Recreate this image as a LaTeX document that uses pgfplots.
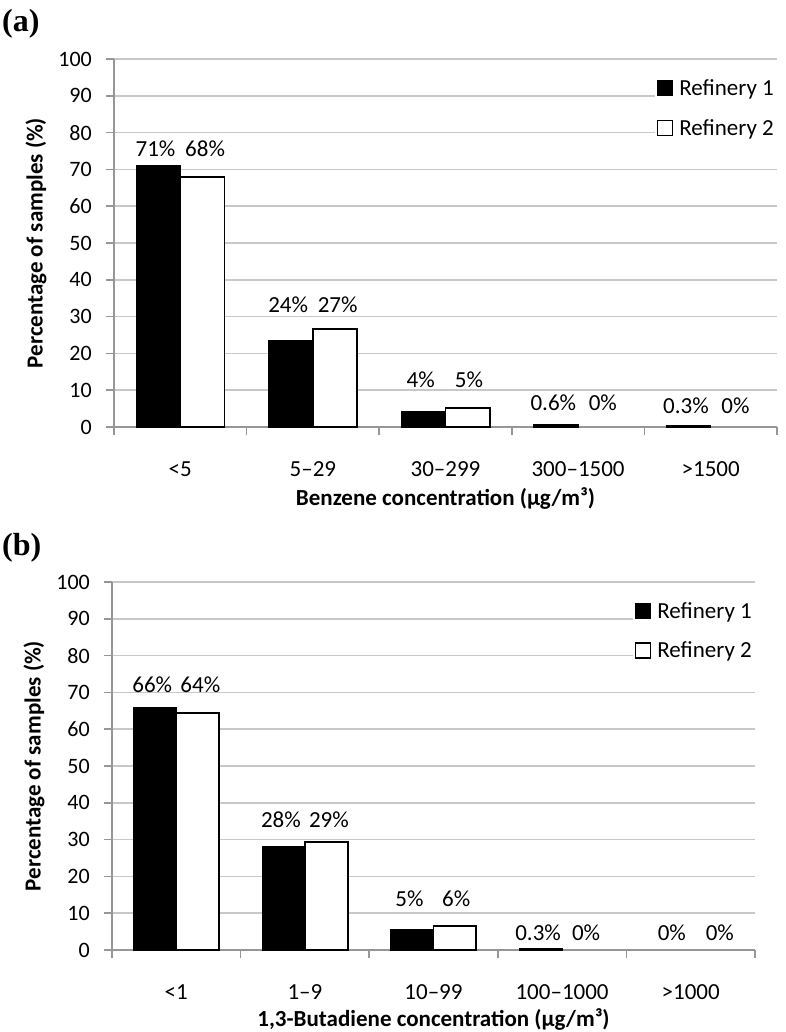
\documentclass[border=0pt]{standalone}
\usepackage{fontspec}
\setmainfont{Carlito}
\newfontfamily\serifb{Liberation Serif}
\usepackage{pgfplots}
\pgfplotsset{compat=1.18}
\definecolor{gridc}{RGB}{200,200,200}
\definecolor{axc}{RGB}{150,150,150}
\newcommand{\fs}{\fontsize{22bp}{26bp}\selectfont}
\newcommand{\fl}{\fontsize{23bp}{27bp}\selectfont}
\pgfplotsset{
  refstyle/.style={
    scale only axis, height=368bp,
    xmin=-0.5, xmax=4.5, ymin=0, ymax=100,
    axis x line*=bottom, axis y line*=left,
    ytick={0,10,...,100},
    xtick={-0.5,0.5,...,4.5}, xticklabels={,,,,,},
    extra x ticks={0,1,2,3,4},
    extra x tick style={major tick length=0pt, grid=none},
    ymajorgrids, grid style={gridc, line width=1.5bp},
    axis line style={axc, line width=1.5bp, -},
    tick style={axc, line width=1.5bp},
    tick align=outside, major tick length=8bp,
    /pgf/number format/assume math mode=true,
    yticklabel style={font=\fs, anchor=east, inner sep=0pt, xshift=-14bp},
    xticklabel style={font=\fl, anchor=base, yshift=-49bp, inner sep=0pt},
    label style={font=\fl\bfseries},
    xlabel style={anchor=base},
    ylabel style={anchor=center},
    legend cell align=left,
    legend style={draw=none, fill=white, at={(rel axis cs:1,1)}, anchor=north east,
      yshift=-16bp, inner xsep=2bp, inner ysep=3bp, font=\fl,
      nodes={inner sep=1bp},
      /tikz/every odd column/.style={column sep=5bp}},
    every node near coord/.style={anchor=base, font=\fl, inner sep=0pt},
  },
  r1/.style={ybar, bar width=0.3333, bar shift=-0.16667, fill=black, draw=black, line width=1bp,
    legend image code/.code={\draw[black, fill=black, line width=1bp] (0bp,-7.5bp) rectangle (15bp,7.5bp);}},
  r2/.style={ybar, bar width=0.3333, bar shift=0.16667, fill=white, draw=black, line width=1.8bp,
    legend image code/.code={\draw[black, fill=white, line width=1.4bp] (0bp,-7.5bp) rectangle (15bp,7.5bp);}},
  labs/.style={forget plot, draw=none, mark=none, nodes near coords={\pgfplotspointmeta\%}, point meta=explicit symbolic},
}
\begin{document}
\begin{tikzpicture}
\useasboundingbox (0,0) rectangle (786bp,-1032bp);
\node[anchor=base west, inner sep=0pt, font=\serifb\bfseries\fontsize{32bp}{36bp}\selectfont] at (2bp,-31bp) {(a)};
\begin{axis}[refstyle, width=663bp, at={(114bp,-427bp)}, anchor=south west,
  extra x tick labels={<5,5–29,30–299,300–1500,>1500},
  xlabel={Benzene concentration (µg/m³)},
  ylabel={Percentage of samples (\%)},
  xlabel style={at={(axis description cs:0.5,-0.212)}},
  ylabel style={at={(axis description cs:-0.1176,0.5)}},
  legend style={row sep=21bp}]
\addplot[r1] coordinates {(0,71.0) (1,23.4) (2,4.3) (3,0.6) (4,0.3)};
\addlegendentry{Refinery 1}
\addplot[r2] coordinates {(0,68.0) (1,26.6) (2,5.1)};
\addlegendentry{Refinery 2}
\addplot[labs] table[meta=lab] {
x y lab
-0.1867 73.6 71
0.1867 73.6 68
0.8133 31.0 24
1.1867 31.0 27
1.8133 10.6 4
2.1767 10.6 5
2.8133 4.6 0.6
3.1867 4.6 0
3.8133 3.8 0.3
4.1867 3.8 0
};
\end{axis}
\node[anchor=base west, inner sep=0pt, font=\serifb\bfseries\fontsize{32bp}{36bp}\selectfont] at (2bp,-555bp) {(b)};
\begin{axis}[refstyle, width=643bp, at={(112bp,-950bp)}, anchor=south west,
  extra x tick labels={<1,1–9,10–99,100–1000,>1000},
  xlabel={1,3-Butadiene concentration (µg/m³)},
  ylabel={Percentage of samples (\%)},
  xlabel style={at={(axis description cs:0.5,-0.209)}},
  ylabel style={at={(axis description cs:-0.1213,0.5)}},
  legend style={row sep=20bp}]
\addplot[r1] coordinates {(0,66.0) (1,28.1) (2,5.6) (3,0.3)};
\addlegendentry{Refinery 1}
\addplot[r2] coordinates {(0,64.3) (1,29.4) (2,6.5)};
\addlegendentry{Refinery 2}
\addplot[labs] table[meta=lab] {
x y lab
-0.1867 70.1 66
0.1867 70.1 64
0.8133 33.4 28
1.1867 33.4 29
1.8133 11.7 5
2.1767 11.7 6
2.8133 2.7 0.3
3.1867 2.7 0
3.8533 2.7 0
4.2267 2.7 0
};
\end{axis}
\end{tikzpicture}
\end{document}
